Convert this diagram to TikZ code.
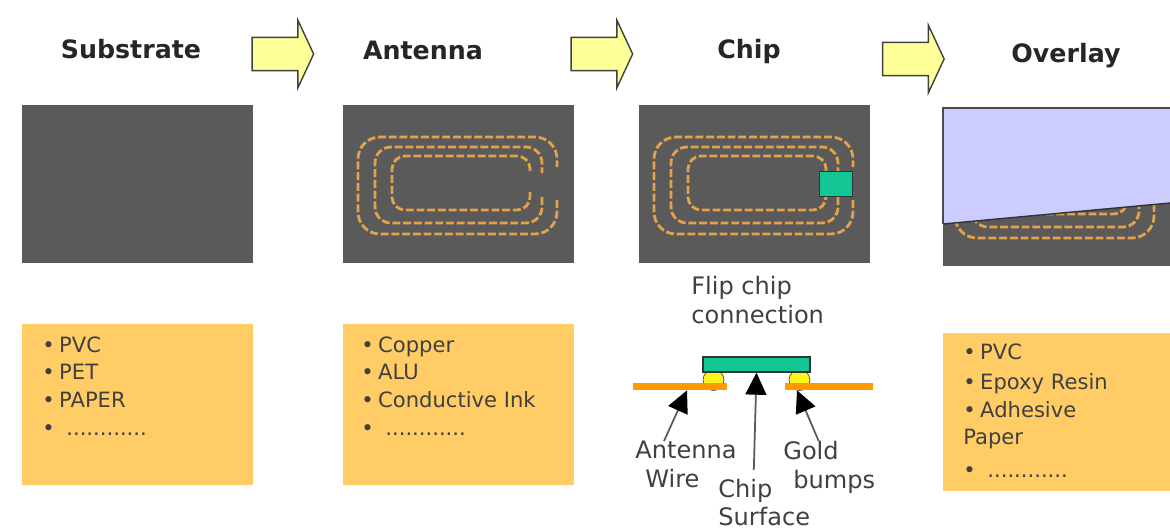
\documentclass[tikz,border=0pt]{standalone}
\usepackage{fontspec}
\setmainfont{DejaVu Sans}
\usepackage{xcolor}
\usetikzlibrary{shapes,arrows.meta}
\definecolor{paneldark}{HTML}{5A5A5A}
\definecolor{notebox}{HTML}{FFCC66}
\definecolor{coilorange}{HTML}{E2A24A}
\definecolor{chipgreen}{HTML}{12C794}
\definecolor{wireorange}{HTML}{FF9900}
\definecolor{arrowyellow}{HTML}{FFFF99}
\definecolor{overlayblue}{HTML}{CCCCFF}
\newcommand{\bul}{•\kern0.21em}
\tikzstyle{heading} = [font=\fontsize{14.4}{17}\selectfont\bfseries, text=black!85, inner sep=0pt, anchor=base]
\tikzstyle{steparrow} = [shape=single arrow, draw=black!75, fill=arrowyellow, line width=0.8pt, inner xsep=0pt, inner ysep=0.32cm, minimum height=1.23cm, single arrow head extend=0.34cm, single arrow tip angle=130]
\tikzstyle{panel} = [rectangle, fill=paneldark, anchor=north west, minimum width=4.62cm, minimum height=3.16cm, inner sep=0pt]
\tikzstyle{notes} = [rectangle, fill=notebox, anchor=north west, minimum width=4.62cm, minimum height=3.22cm, inner sep=0pt]
\tikzstyle{listing} = [anchor=north west, align=left, inner sep=0pt, text=black!75, font=\fontsize{12}{15.8}\selectfont]
\tikzstyle{caption} = [align=left, inner sep=0pt, text=black!75, font=\fontsize{13.7}{16.2}\selectfont]
\tikzstyle{coil} = [draw=coilorange, line width=1.6pt, dash pattern=on 4.5pt off 1.6pt]
\tikzstyle{wire} = [rectangle, fill=wireorange, minimum height=0.14cm, inner sep=0pt]
\tikzstyle{bump} = [circle, draw=black!70, fill=yellow!90!white, minimum size=0.42cm, inner sep=0pt]
\tikzstyle{line} = [draw, black!65, line width=1pt, -{Triangle[length=0.44cm,width=0.42cm,black]}]
\newcommand{\coilturns}{
\foreach \xl/\xr/\yt/\yb/\gt/\gb/\rad in {358/557/137/234/167/200/0.44cm, 375/542/147/223/173/197/0.32cm, 392/530/156/210/173/192/0.26cm}
  \draw [coil, rounded corners=\rad] (\xr,\gb) -- (\xr,\yb) -- (\xl,\yb) -- (\xl,\yt) -- (\xr,\yt) -- (\xr,\gt);
}
\begin{document}
\begin{tikzpicture}[x=0.02cm,y=-0.02cm]
\useasboundingbox (0,0) rectangle (1170,531);
\node [heading] (substrate-title) at (131,58) {Substrate};
\node [heading] (antenna-title) at (423,59) {Antenna};
\node [heading] (chip-title) at (749,58) {Chip};
\node [heading] (overlay-title) at (1066,62) {Overlay};
\node [steparrow] (arrow-one) at (279,54) {};
\node [steparrow] (arrow-two) at (598,54) {};
\node [steparrow] (arrow-three) at (909.5,59) {};
\node [panel] (substrate-panel) at (22,105) {};
\node [panel] (antenna-panel) at (343,105) {};
\node [panel] (chip-panel) at (639,105) {};
\node [panel, minimum width=4.54cm] (overlay-panel) at (943,108) {};
\coilturns
\begin{scope}[shift={(296,0)}]
\coilturns
\end{scope}
\begin{scope}[shift={(597,4)}]
\coilturns
\end{scope}
\node [rectangle, draw=black!80, line width=0.8pt, fill=chipgreen, minimum width=0.66cm, minimum height=0.5cm, inner sep=0pt] (chip-square) at (836,184) {};
\fill [overlayblue] (overlay-panel.north west) -- (overlay-panel.north east) -- (1170,203) -- (943,224) -- cycle;
\draw [black!70, line width=0.8pt] (943,224) -- (943,108) -- (1170,108);
\draw [black!80, line width=0.8pt] (943,224) -- (1170,203);
\node [notes] (substrate-notes) at (22,324) {};
\node [notes] (antenna-notes) at (343,324) {};
\node [notes, minimum width=4.54cm, minimum height=3.16cm] (overlay-notes) at (943,333) {};
\node [listing] (substrate-list) at ([xshift=0.4cm,yshift=-0.24cm]substrate-notes.north west) {\bul PVC\\\bul PET\\\bul PAPER\\\bul\kern0.34em ............};
\node [listing] (antenna-list) at ([xshift=0.36cm,yshift=-0.24cm]antenna-notes.north west) {\bul Copper\\\bul ALU\\\bul Conductive Ink\\\bul\kern0.34em ............};
\node [listing] (overlay-list) at ([xshift=0.4cm,yshift=-0.2cm]overlay-notes.north west) {\bul PVC\\[1.5pt]\bul Epoxy Resin\\\bul Adhesive\\Paper\\[3pt]\bul\kern0.34em ............};
\node [caption, anchor=north west] (flip-label) at (691,276) {Flip chip\\connection};
\node [bump] (left-bump) at (713.5,380) {};
\node [bump] (right-bump) at (799.5,380) {};
\node [rectangle, draw=black!80, line width=0.8pt, fill=chipgreen, minimum width=2.14cm, minimum height=0.3cm, inner sep=0pt] (chip-die) at (756.5,364.5) {};
\node [wire, minimum width=1.88cm] (wire-left) at (680,386.5) {};
\node [wire, minimum width=1.76cm] (wire-right) at (829,386.5) {};
\node [caption, anchor=north west] (wire-label) at (635,441) {Antenna\\\hspace*{5.7pt}Wire};
\node [caption, anchor=north west] (gold-label) at (783,441) {Gold\\\hspace*{5.7pt}bumps};
\node [caption, anchor=north west] (surface-label) at (718,479) {Chip\\[-0.6pt]Surface};
\path [line] (wire-label.133) -- ([xshift=0.14cm]wire-left.south);
\path [line] (gold-label.112) -- ([xshift=-0.64cm]wire-right.south);
\path [line] ([yshift=0.18cm]surface-label.114) -- (chip-die.south);
\end{tikzpicture}
\end{document}
